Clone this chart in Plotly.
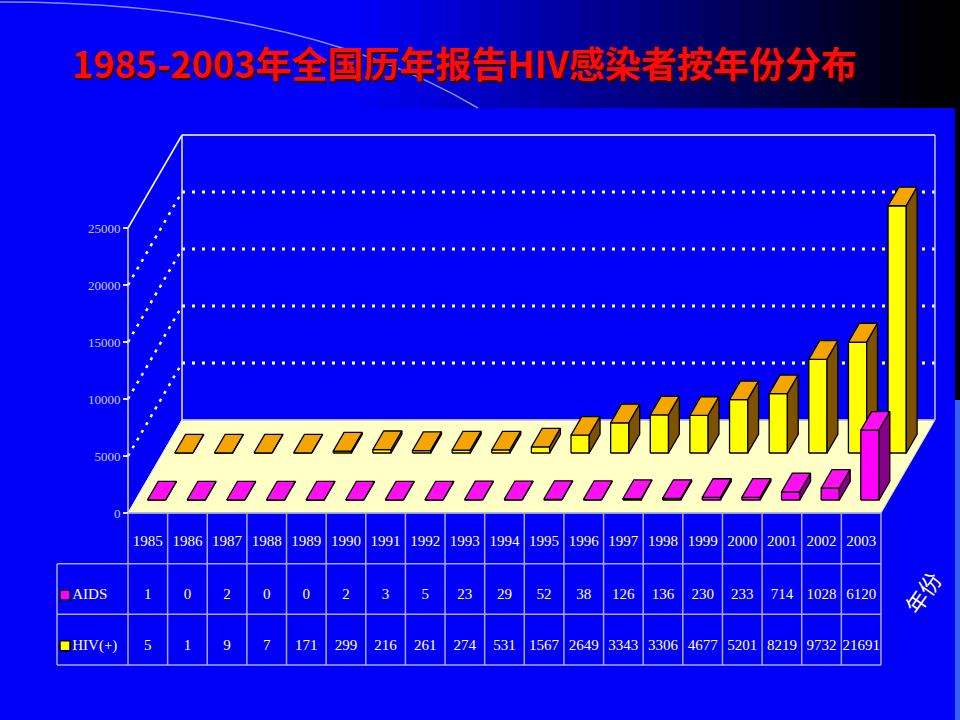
import plotly.graph_objects as go

years = ["1985", "1986", "1987", "1988", "1989", "1990", "1991", "1992", "1993", "1994",
         "1995", "1996", "1997", "1998", "1999", "2000", "2001", "2002", "2003"]
aids = [1, 0, 2, 0, 0, 2, 3, 5, 23, 29, 52, 38, 126, 136, 230, 233, 714, 1028, 6120]
hiv = [5, 1, 9, 7, 171, 299, 216, 261, 274, 531, 1567, 2649, 3343, 3306, 4677, 5201, 8219, 9732, 21691]
y_ticks = [0, 5000, 10000, 15000, 20000, 25000]
y_max = 25000

#pixel geometry of the slide (960x720)
W, H = 960, 720
X0, COLW = 128, 39.63          # left edge of table / floor, width of one year column
Y0, K = 513, 285 / 25000       # floor front edge, pixels per case
DX = 54 / COLW                 # depth offset in column units
DY = 93 / K                    # depth offset in value units

BAR_OFF, BAR_W, BAR_D = 0.3, 0.46, 0.2
Z_AIDS, Z_HIV = 0.14, 0.645

ROW_H = 50.67
R0 = 665                       # table bottom (pixel)


def proj(u, v, z):
    return u + z * DX, v + z * DY


def faces(values, z0):
    fr, tp, sd = ([], []), ([], []), ([], [])
    for i, val in enumerate(values):
        u0 = i + BAR_OFF
        u1 = u0 + BAR_W
        z1 = z0 + BAR_D
        polys = [
            (fr, [(u0, 0, z0), (u1, 0, z0), (u1, val, z0), (u0, val, z0)]),
            (tp, [(u0, val, z0), (u1, val, z0), (u1, val, z1), (u0, val, z1)]),
            (sd, [(u1, 0, z0), (u1, 0, z1), (u1, val, z1), (u1, val, z0)]),
        ]
        for store, pts in polys:
            pts = pts + [pts[0]]
            for p in pts:
                x, y = proj(*p)
                store[0].append(x)
                store[1].append(y)
            store[0].append(None)
            store[1].append(None)
    return fr, tp, sd


fig = go.Figure()

#floor
fx, fy = zip(*[proj(0, 0, 0), proj(19, 0, 0), proj(19, 0, 1), proj(0, 0, 1), proj(0, 0, 0)])
fig.add_scatter(x=fx, y=fy, fill="toself", fillcolor="#FFFFC6", mode="lines",
                line=dict(color="#D8D8C0", width=1), hoverinfo="skip", showlegend=False)

#walls
def seg(p, q, color, width=1.5, dash="solid"):
    (x1, y1), (x2, y2) = proj(*p), proj(*q)
    fig.add_scatter(x=[x1, x2], y=[y1, y2], mode="lines", hoverinfo="skip", showlegend=False,
                    line=dict(color=color, width=width, dash=dash))

for t in y_ticks[1:-1]:
    seg((0, t, 1), (19, t, 1), "white", 3, "3px,7px")
for t in y_ticks[1:-1]:
    seg((0, t, 0), (0, t, 1), "white", 2.5, "3px,6px")
seg((0, y_max, 0), (0, y_max, 1), "white", 1.5)
seg((0, y_max, 1), (19, y_max, 1), "white", 1.5)
seg((0, 0, 1), (0, y_max, 1), "#E8E8F8", 1.5)
seg((19, 0, 1), (19, y_max, 1), "#C8C8E8", 1.5)
seg((0, 0, 1), (19, 0, 1), "#B8B8C8", 1.5)
seg((0, 0, 0), (0, y_max, 0), "#D0D0F0", 1.5)
seg((0, 0, 0), (0, 0, 1), "#F0F0F0", 1)

#bars: back row (HIV) first, then front row (AIDS)
for values, z0, cols in [(hiv, Z_HIV, ("#FFFF00", "#F5A500", "#7F5200")),
                         (aids, Z_AIDS, ("#FF00FF", "#FF10F0", "#88008A"))]:
    for (xs, ys), col in zip(faces(values, z0), cols):
        fig.add_scatter(x=xs, y=ys, fill="toself", fillcolor=col, mode="lines",
                        line=dict(color="black", width=1.3), hoverinfo="skip", showlegend=False)

#data table
ux = [i + 0.5 for i in range(len(years))]
tfont = dict(family="Liberation Serif, DejaVu Serif", size=15, color="#FFFFD2")
fig.add_scatter(x=ux, y=[2.42] * len(years), text=years, mode="text", yaxis="y2",
                textfont=tfont, hoverinfo="skip", showlegend=False)
fig.add_scatter(x=ux, y=[1.38] * len(aids), text=[str(v) for v in aids], mode="text", yaxis="y2",
                textfont=tfont, hoverinfo="skip", showlegend=False)
fig.add_scatter(x=ux, y=[0.38] * len(hiv), text=[str(v) for v in hiv], mode="text", yaxis="y2",
                textfont=tfont, hoverinfo="skip", showlegend=False)

key_u = (65 - X0) / COLW
fig.add_scatter(x=[key_u, key_u], y=[1.38, 0.38], mode="markers+text", yaxis="y2",
                marker=dict(symbol="square", size=10, color=["#FF00FF", "#FFFF00"],
                            line=dict(color="black", width=1.5)),
                text=["AIDS", "HIV(+)"], textposition="middle right",
                textfont=tfont, hoverinfo="skip", showlegend=False)

lcol = "#A8A8E0"
left_u = (57 - X0) / COLW
shapes = []
shapes.append(dict(type="line", xref="x", yref="y2", x0=0, x1=19, y0=3, y1=3, line=dict(color=lcol, width=1.5)))
for r in [0, 1, 2]:
    shapes.append(dict(type="line", xref="x", yref="y2", x0=left_u, x1=19, y0=r, y1=r,
                       line=dict(color=lcol, width=1.5)))
for i in range(len(years) + 1):
    shapes.append(dict(type="line", xref="x", yref="y2", x0=i, x1=i, y0=0, y1=3,
                       line=dict(color=lcol, width=1.5)))
shapes.append(dict(type="line", xref="x", yref="y2", x0=left_u, x1=left_u, y0=0, y1=2,
                   line=dict(color=lcol, width=1.5)))

#slide background: dark gradient band on top, blue panel below
band = []
n = 48
for j in range(n):
    xa = j * W / n
    t = min(max((xa - 350) / 580, 0), 1)
    b = int(248 * (1 - t))
    band.append(dict(type="rect", xref="paper", yref="paper", layer="below",
                     x0=xa / W, x1=(xa + W / n + 1) / W, y0=1 - 108 / H, y1=1,
                     fillcolor="rgb(0,0,%d)" % b, line_width=0))
band.append(dict(type="rect", xref="paper", yref="paper", layer="below",
                 x0=0, x1=955 / W, y0=0, y1=1 - 108 / H, fillcolor="#0000F8", line_width=0))
band.append(dict(type="rect", xref="paper", yref="paper", layer="below",
                 x0=955 / W, x1=1, y0=0, y1=1 - 400 / H, fillcolor="#3462EE", line_width=0))
band.append(dict(type="rect", xref="paper", yref="paper", layer="below",
                 x0=955 / W, x1=1, y0=1 - 400 / H, y1=1 - 108 / H, fillcolor="#000008", line_width=0))
band.append(dict(type="path", xref="paper", yref="paper", layer="below",
                 path="M 0,%.4f Q %.4f,%.4f %.4f,%.4f" % (1 - 2 / H, 300 / W, 1 - 2 / H, 478 / W, 1 - 108 / H),
                 line=dict(color="rgba(190,200,255,0.7)", width=1.5)))

title = "1985-2003年全国历年报告HIV感染者按年份分布"
annots = [
    dict(text="<b>" + title + "</b>", xref="paper", yref="paper", x=464 / W, y=1 - 62 / H,
         xanchor="center", yanchor="middle", showarrow=False,
         font=dict(family="Noto Sans CJK SC", size=36, color="#FF0A0A",
                   shadow="2px 2px 0px #2A0000")),
    dict(text="年份", xref="paper", yref="paper", x=922 / W, y=1 - 592 / H, showarrow=False,
         xanchor="center", yanchor="middle", textangle=-55,
         font=dict(family="Noto Sans CJK SC", size=22, color="#FFFFD0")),
]

fig.update_layout(
    width=W, height=H,
    margin=dict(l=0, r=0, t=0, b=0, pad=0),
    paper_bgcolor="#0000F8",
    plot_bgcolor="rgba(0,0,0,0)",
    shapes=band + shapes,
    annotations=annots,
    xaxis=dict(range=[-X0 / COLW, (W - X0) / COLW], visible=False, fixedrange=True),
    yaxis=dict(range=[(Y0 - H) / K, Y0 / K], anchor="free", position=X0 / W,
               tickvals=y_ticks, ticktext=[str(t) for t in y_ticks],
               ticks="outside", ticklen=5, tickwidth=1.5, tickcolor="#E8E8F8",
               tickfont=dict(family="Liberation Serif, DejaVu Serif", size=13, color="#C8C8F0"),
               showgrid=False, zeroline=False, showline=False, fixedrange=True),
    yaxis2=dict(range=[(R0 - H) / ROW_H, R0 / ROW_H], overlaying="y", visible=False, fixedrange=True),
)

#page body margin off so the slide sits at the window corner
fig.write_html("out.html", config={"displayModeBar": False},
               post_script="document.body.style.margin='0';document.body.style.overflow='hidden';")
